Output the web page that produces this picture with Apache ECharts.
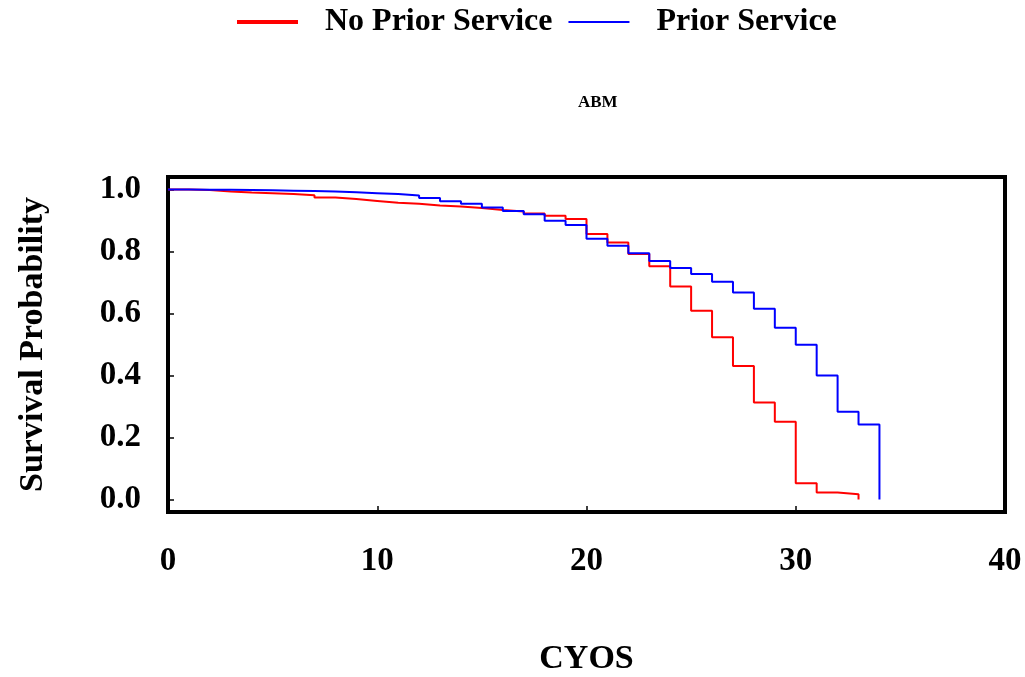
<!DOCTYPE html>
<html>
<head>
<meta charset="utf-8">
<script src="https://cdn.jsdelivr.net/npm/echarts@6/dist/echarts.min.js"></script>
<style>html,body{margin:0;padding:0;background:#fff}#c{width:1025px;height:677px}</style>
</head>
<body>
<div id="c"></div>
<script>
const years = [0,1,2,3,4,5,6,7,8,9,10,11,12,13,14,15,16,17,18,19,20,21,22,23,24,25,26,27,28,29,30,31,32,33,34];
const noPriorService = [1.000,0.998,0.993,0.990,0.988,0.985,0.981,0.974,0.969,0.963,0.957,0.954,0.948,0.945,0.940,0.934,0.929,0.922,0.915,0.905,0.856,0.829,0.792,0.752,0.687,0.609,0.523,0.431,0.313,0.251,0.053,0.023,0.017,0.000];
const priorService = [1.000,0.999,0.999,0.998,0.997,0.996,0.995,0.993,0.991,0.988,0.985,0.980,0.972,0.962,0.954,0.942,0.930,0.920,0.899,0.885,0.841,0.818,0.794,0.769,0.747,0.727,0.702,0.668,0.615,0.554,0.499,0.400,0.283,0.242,0.000];
const yTicks = [0,0.2,0.4,0.6,0.8,1.0];
const xTicks = [0,10,20,30,40];

const pair = (vals) => vals.map((v,i)=>[years[i], v]);
const font = '"Liberation Serif", "Times New Roman", serif';

const chart = echarts.init(document.getElementById('c'), null, {renderer:'canvas'});
chart.setOption({
  animation:false,
  backgroundColor:'#fff',
  title:{text:'ABM', left:573, top:89, textStyle:{fontFamily:font, fontWeight:'bold', fontSize:17, color:'#000'}},
  legend:{
    left:232, top:1, itemWidth:61, itemHeight:14, itemGap:16,
    textStyle:{fontFamily:font, fontWeight:'bold', fontSize:32, color:'#000', padding:[0,0,0,22]},
    data:[
      {name:'No Prior Service', icon:'path://M0,0L61,0L61,4L0,4Z', itemStyle:{color:'#ff0000'}},
      {name:'Prior Service', icon:'path://M0,0L61,0L61,2L0,2Z', itemStyle:{color:'#0000ff'}}
    ]
  },
  grid:{left:168, right:20, top:177, bottom:163, show:true, borderColor:'#000', borderWidth:4, backgroundColor:'transparent'},
  xAxis:{
    type:'value', min:0, max:40, interval:10,
    name:'CYOS', nameLocation:'middle', nameGap:130,
    nameTextStyle:{fontFamily:font, fontWeight:'bold', fontSize:34, color:'#000'},
    axisLine:{show:true, onZero:false, lineStyle:{color:'#000', width:4}},
    axisTick:{show:true, inside:true, length:6, lineStyle:{color:'#000', width:1.5}, customValues:xTicks},
    axisLabel:{margin:33, fontFamily:font, fontWeight:'bold', fontSize:33, color:'#000', customValues:xTicks},
    splitLine:{show:false}
  },
  yAxis:{
    type:'value', min:-0.04, max:1.04,
    name:'Survival Probability', nameLocation:'middle', nameGap:118, nameRotate:90,
    nameTextStyle:{fontFamily:font, fontWeight:'bold', fontSize:34, color:'#000'},
    axisLine:{show:true, onZero:false, lineStyle:{color:'#000', width:4}},
    axisTick:{show:true, inside:true, length:6, lineStyle:{color:'#000', width:1.5}, customValues:yTicks},
    axisLabel:{margin:27, fontFamily:font, fontWeight:'bold', fontSize:33, color:'#000', customValues:yTicks, formatter:(v)=>v.toFixed(1)},
    splitLine:{show:false}
  },
  series:[
    {name:'No Prior Service', type:'line', step:'end', symbol:'none', data:pair(noPriorService), lineStyle:{color:'#ff0000', width:2}, itemStyle:{color:'#ff0000'}, z:2},
    {name:'Prior Service', type:'line', step:'end', symbol:'none', data:pair(priorService), lineStyle:{color:'#0000ff', width:2}, itemStyle:{color:'#0000ff'}, z:3}
  ]
});
</script>
</body>
</html>
